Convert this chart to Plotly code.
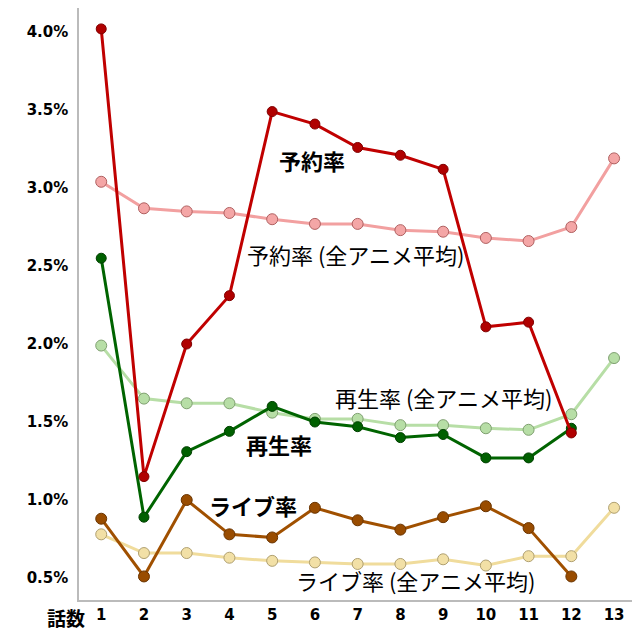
import plotly.graph_objects as go

# ==================================================
# DATA
# ==================================================
episodes = list(range(1, 14))

yoyaku = [4.02, 1.15, 2.00, 2.31, 3.49, 3.41, 3.26, 3.21, 3.12, 2.11, 2.14, 1.43]
yoyaku_avg = [3.04, 2.87, 2.85, 2.84, 2.80, 2.77, 2.77, 2.73, 2.72, 2.68, 2.66, 2.75, 3.19]

saisei = [2.55, 0.89, 1.31, 1.44, 1.60, 1.50, 1.47, 1.40, 1.42, 1.27, 1.27, 1.46]
saisei_avg = [1.99, 1.65, 1.62, 1.62, 1.56, 1.52, 1.52, 1.48, 1.48, 1.46, 1.45, 1.55, 1.91]

live = [0.88, 0.51, 1.00, 0.78, 0.76, 0.95, 0.87, 0.81, 0.89, 0.96, 0.82, 0.51]
live_avg = [0.78, 0.66, 0.66, 0.63, 0.61, 0.60, 0.59, 0.59, 0.62, 0.58, 0.64, 0.64, 0.95]

y_ticks = [0.5, 1.0, 1.5, 2.0, 2.5, 3.0, 3.5, 4.0]
y_tick_labels = ["0.5%", "1.0%", "1.5%", "2.0%", "2.5%", "3.0%", "3.5%", "4.0%"]

JP = "Noto Sans CJK JP"

fig = go.Figure()


def add_line(ys, line_color, marker_color, edge_color, size):
    fig.add_trace(go.Scatter(
        x=episodes[:len(ys)],
        y=ys,
        mode="lines+markers",
        line=dict(color=line_color, width=3),
        marker=dict(size=size, color=marker_color,
                    line=dict(width=1, color=edge_color)),
        showlegend=False,
        cliponaxis=False,
    ))


# averages first (drawn underneath)
add_line(yoyaku_avg, "#F2A0A0", "#F4A6A6", "#B06060", 11)
add_line(saisei_avg, "#B7DEA6", "#B7DEA6", "#7FA070", 11)
add_line(live_avg, "#F0DC9C", "#F2E0A6", "#B0A070", 11)

add_line(live, "#A05000", "#994C00", "#6A3400", 11)
add_line(saisei, "#006400", "#006000", "#004000", 10)
add_line(yoyaku, "#C00000", "#B00000", "#800000", 10)

# -------------------
# Labels
# -------------------
labels = [
    ("予約率", 5.94, 3.18, True),
    ("予約率 (全アニメ平均)", 6.95, 2.58, False),
    ("再生率 (全アニメ平均)", 9.01, 1.66, False),
    ("再生率", 5.15, 1.36, True),
    ("ライブ率", 4.56, 0.97, True),
    ("ライブ率 (全アニメ平均)", 8.35, 0.49, False),
]
for txt, lx, ly, bold in labels:
    fig.add_annotation(
        x=lx, y=ly, text=f"<b>{txt}</b>" if bold else txt,
        showarrow=False,
        font=dict(family=JP, size=22, color="black"),
        xanchor="center", yanchor="middle",
    )

# axis title sits left of the first tick
fig.add_annotation(
    xref="paper", yref="paper",
    x=-0.023, y=-0.030, text="<b>話数</b>", showarrow=False,
    font=dict(family=JP, size=19, color="black"),
    xanchor="center", yanchor="middle",
)

# -------------------
# Layout
# -------------------
fig.update_layout(
    width=632, height=632,
    margin=dict(l=71, r=2, t=0, b=40),
    plot_bgcolor="white",
    paper_bgcolor="white",
    xaxis=dict(
        range=[0.48, 13.56],
        tickvals=episodes,
        ticktext=[str(e) for e in episodes],
        tickfont=dict(family="DejaVu Sans", size=15, color="black", weight="bold"),
        showgrid=False, zeroline=False,
        showline=True, linecolor="#BBBBBB", linewidth=1.5,
        ticks="", ticklen=0,
    ),
    yaxis=dict(
        range=[0.359, 4.154],
        tickvals=y_ticks,
        ticktext=y_tick_labels,
        tickfont=dict(family="DejaVu Sans", size=15, color="black", weight="bold"),
        ticklabelstandoff=6,
        showgrid=False, zeroline=False,
        showline=True, linecolor="#BBBBBB", linewidth=1.5,
        ticks="", ticklen=0,
    ),
)

fig.write_html("out.html")
